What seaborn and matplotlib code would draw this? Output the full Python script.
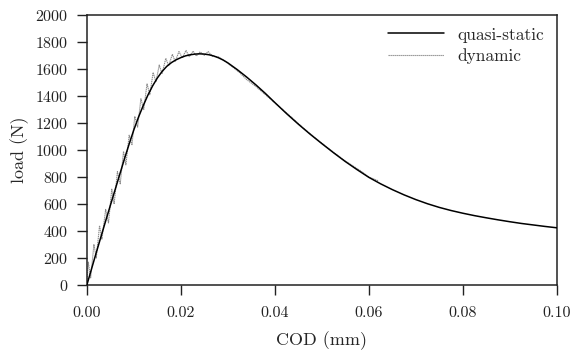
import numpy as np
import pandas as pd
import matplotlib
matplotlib.use('Agg')
import matplotlib.pyplot as plt
import seaborn as sns

# quasi-static response
qs_cod = [0.000, 0.002, 0.004, 0.006, 0.008, 0.009, 0.010, 0.011, 0.012, 0.013,
          0.014, 0.015, 0.016, 0.017, 0.018, 0.019, 0.020, 0.021, 0.022, 0.023,
          0.024, 0.025, 0.026, 0.027, 0.028, 0.029, 0.030, 0.032, 0.034, 0.036,
          0.038, 0.040, 0.0425, 0.045, 0.0475, 0.050, 0.0525, 0.055, 0.0575, 0.060,
          0.0625, 0.065, 0.0675, 0.070, 0.0725, 0.075, 0.0775, 0.080, 0.0825, 0.085,
          0.0875, 0.090, 0.0925, 0.095, 0.0975, 0.100]
qs_load = [0, 240, 475, 705, 935, 1045, 1150, 1245, 1330, 1408,
           1476, 1534, 1582, 1620, 1648, 1669, 1685, 1698, 1706, 1711,
           1713, 1711, 1706, 1697, 1684, 1667, 1646, 1596, 1541, 1482,
           1419, 1352, 1270, 1192, 1118, 1048, 980, 915, 855, 798,
           750, 707, 668, 633, 602, 575, 552, 532, 514, 498,
           483, 469, 456, 445, 434, 424]

# dynamic response (oscillating around the quasi-static one)
dyn_cod = [0.0000, 0.0003, 0.0008, 0.0015, 0.0020, 0.0027, 0.0032, 0.0040, 0.0046, 0.0053,
           0.0058, 0.0065, 0.0071, 0.0078, 0.0083, 0.0090, 0.0096, 0.0102, 0.0108, 0.0115,
           0.0121, 0.0128, 0.0134, 0.0141, 0.0147, 0.0154, 0.0160, 0.0168, 0.0174, 0.0182,
           0.0188, 0.0196, 0.0203, 0.0211, 0.0218, 0.0226, 0.0233, 0.0241, 0.0250, 0.0258,
           0.0268, 0.0280, 0.0295, 0.0310, 0.0325, 0.0340, 0.0360, 0.0380, 0.0400, 0.0430,
           0.0460, 0.0490, 0.0520, 0.0550, 0.0580, 0.0600, 0.0620]
dyn_load = [0, 170, 50, 300, 200, 440, 340, 560, 460, 710,
            600, 840, 750, 990, 890, 1110, 1040, 1250, 1170, 1380,
            1300, 1490, 1410, 1575, 1505, 1630, 1565, 1680, 1625, 1710,
            1655, 1730, 1683, 1738, 1692, 1733, 1697, 1728, 1702, 1730,
            1694, 1690, 1656, 1616, 1574, 1522, 1470, 1410, 1350, 1260,
            1165, 1078, 996, 918, 852, 800, 772]

sns.set_style('ticks')
plt.rcParams['font.family'] = 'serif'
plt.rcParams['font.serif'] = ['cmr10', 'DejaVu Serif']
plt.rcParams['mathtext.fontset'] = 'cm'
plt.rcParams['axes.formatter.use_mathtext'] = True

fig = plt.figure(figsize=(5.83, 3.51), dpi=100)
ax = fig.add_axes([0.149, 0.188, 0.806, 0.769])

qs = pd.DataFrame({'cod': qs_cod, 'load': qs_load})
dyn = pd.DataFrame({'cod': dyn_cod, 'load': dyn_load})

sns.lineplot(data=dyn, x='cod', y='load', sort=False, estimator=None, ax=ax,
             color='#8a8a8a', linewidth=0.8, linestyle=(0, (1.2, 0.6)), label='dynamic', zorder=2)
sns.lineplot(data=qs, x='cod', y='load', sort=False, estimator=None, ax=ax,
             color='black', linewidth=1.1, label='quasi-static', zorder=3)

ax.set_xlim(0, 0.10)
ax.set_ylim(0, 2000)
ax.set_xticks(np.arange(0, 0.1001, 0.02))
ax.set_xticklabels(['0.00', '0.02', '0.04', '0.06', '0.08', '0.10'])
ax.set_yticks(np.arange(0, 2001, 200))
ax.tick_params(direction='out', length=7.5, width=1, labelsize=11.5, colors='#222222')
ax.tick_params(axis='x', pad=8)
ax.tick_params(axis='y', pad=6)
for s in ax.spines.values():
    s.set_linewidth(1.1)
    s.set_color('#222222')

ax.set_xlabel('COD (mm)', fontsize=13, labelpad=8)
ax.set_ylabel('load (N)', fontsize=13, labelpad=4)

h, l = ax.get_legend_handles_labels()
ax.legend(h[::-1], l[::-1], loc='upper right', frameon=False, fontsize=12.5,
          handlelength=3.2, borderaxespad=0.3, labelspacing=0.3)

fig.savefig('out.png', dpi=100)
